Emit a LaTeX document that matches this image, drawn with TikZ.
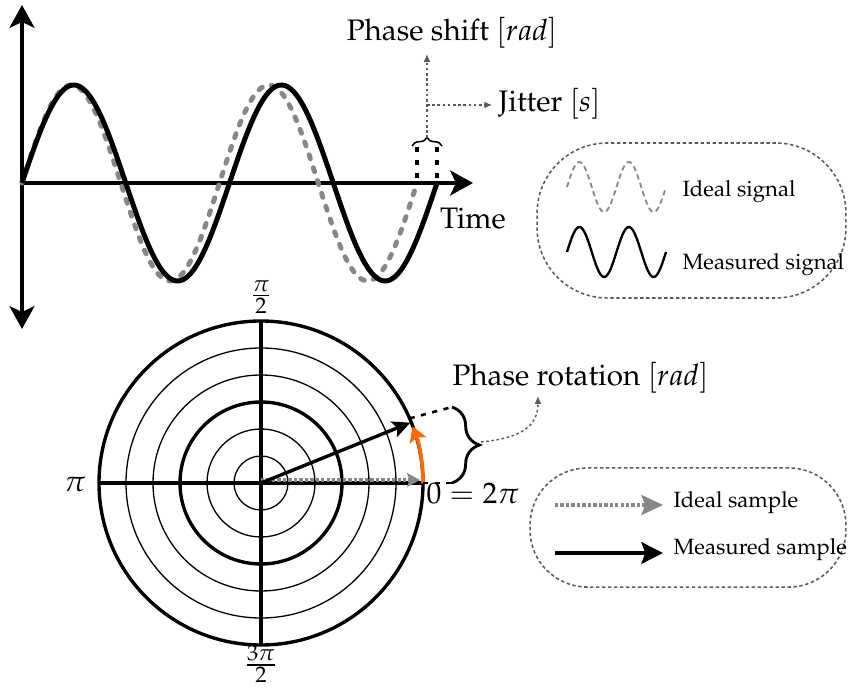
\documentclass[tikz,border=0pt]{standalone}
\usepackage[T1]{fontenc}
\usepackage{mathpazo}
\usetikzlibrary{arrows.meta,decorations.pathreplacing,calc}
\definecolor{sigray}{RGB}{135,135,135}
\definecolor{anngray}{RGB}{90,90,90}
\definecolor{rotorange}{RGB}{255,106,0}
\tikzset{bigtip/.tip={Stealth[length=8.8pt,width=9.6pt,inset=2.3pt]}}
\begin{document}
\begin{tikzpicture}[x=0.3846pt,y=-0.3846pt,
  mainlbl/.style={font=\fontsize{11.4}{13.7}\selectfont, inner sep=0pt},
  leglbl/.style={font=\fontsize{8.5}{10}\selectfont, inner sep=0pt, anchor=west},
  bigaxis/.style={line width=1.8pt},
  idealsig/.style={sigray, line width=1.9pt, line cap=round, dash pattern=on 1.6pt off 3.6pt},
  meassig/.style={black, line width=1.9pt},
  jitline/.style={black, line width=1.2pt, dash pattern=on 2pt off 3pt},
  annarrow/.style={anngray, line width=0.55pt, dash pattern=on 1pt off 1pt, -{Latex[length=3pt,width=2.6pt]}},
  legbox/.style={draw=anngray, line width=0.6pt, dash pattern=on 1.3pt off 1pt, rectangle},
  legideal/.style={sigray, line width=0.7pt, dash pattern=on 2pt off 1.4pt},
  legmeas/.style={black, line width=0.9pt},
  thinring/.style={black, line width=0.5pt},
  thickring/.style={black, line width=1.3pt},
  paxis/.style={black, line width=1.3pt},
  idealarrow/.style={sigray, line width=1.3pt, dash pattern=on 1.3pt off 0.8pt, -{Stealth[length=5pt,width=5.4pt,inset=1pt]}},
  measarrow/.style={black, line width=1.3pt, -{Stealth[length=6.8pt,width=6.4pt,inset=1.4pt]}},
  rotarc/.style={rotorange, line width=1.4pt, -{Stealth[length=5.8pt,width=6.8pt,inset=1.2pt]}},
  rotdash/.style={black, line width=1pt, dash pattern=on 2pt off 2.5pt},
  legidealarrow/.style={sigray, line width=1.4pt, dash pattern=on 1.3pt off 0.8pt, -{Stealth[length=8.3pt,width=7.7pt,inset=1.5pt]}},
  legmeasarrow/.style={black, line width=1.4pt, -{Stealth[length=8.3pt,width=8.3pt,inset=1.5pt]}}
]
\useasboundingbox (0,0) rectangle (848,697);

% ---------------- top: time signal ----------------
\coordinate (O) at (22,183);
\coordinate (yt) at (22,5);
\coordinate (yb) at (22,329);
\coordinate (xt) at (473,183);
\draw[bigaxis, {bigtip}-{bigtip}] (yb) -- (yt);
\draw[bigaxis, -{bigtip}] (O) -- (xt);

\draw[idealsig] plot[domain=0:395, samples=160, smooth] ({22+\x},{183-98*sin(\x/197.5*360)});
\draw[meassig] plot[domain=0:415, samples=160, smooth] ({22+\x},{183-98*sin(\x/207.5*360)});

\node[mainlbl] (time) at (473,219) {Time};

% jitter marks
\coordinate (j1a) at (417,147); \coordinate (j1b) at (417,180);
\coordinate (j2a) at (437,147); \coordinate (j2b) at (437,180);
\draw[jitline] (j1a) -- (j1b);
\draw[jitline] (j2a) -- (j2b);
\coordinate (jbl) at (412,146); \coordinate (jbr) at (442,146);
\draw[black, line width=0.6pt, decorate, decoration={brace, amplitude=3.3pt}] (jbl) -- (jbr);
\coordinate (jtip) at (427,138);
\coordinate (jmid) at (427,105);

\node[mainlbl] (shift) at (452,33) {Phase shift $[rad]$};
\node[mainlbl, anchor=west] (jit) at (498,104) {Jitter $[s]$};
\coordinate (shifttip) at (427,54);
\draw[annarrow] (jtip) -- (shifttip);
\draw[annarrow, shorten >=2.2pt] (jmid) -- (jmid -| jit.west);

% legend 1
\node[legbox, minimum width=118.8pt, minimum height=59.6pt, rounded corners=27pt] (leg1) at (691.5,220.5) {};
\draw[legideal] plot[domain=0:99, samples=80, smooth] ({567+\x},{187-25*sin(\x/49.5*360)});
\draw[legmeas] plot[domain=0:99, samples=80, smooth] ({567+\x},{252-25*sin(\x/49.5*360)});
\node[leglbl] (lideal) at (682,192) {Ideal signal};
\node[leglbl] (lmeas) at (682,265) {Measured signal};

% ---------------- bottom: polar ----------------
\coordinate (C) at (261,483);
\foreach \r in {27,54,108,135} \draw[thinring] (C) circle[radius=\r];
\foreach \r in {81,162} \draw[thickring] (C) circle[radius=\r];
\coordinate (pl) at (99,483); \coordinate (pr) at (423,483);
\coordinate (pt) at (261,321); \coordinate (pb) at (261,645);
\draw[paxis] (pl) -- (pr);
\draw[paxis] (pt) -- (pb);

\coordinate (Ci) at (261,480);
\coordinate (Ie) at (420,480);
\draw[idealarrow] (Ci) -- (Ie);
\coordinate (M) at ($(C)+(-22:161)$);
\draw[measarrow] (C) -- (M);
\draw[rotarc] (pr) arc[start angle=0, end angle=-20.5, radius=162];
\fill (C) circle[radius=2.5];

\coordinate (M2) at ($(C)+(-23.5:162)$);
\coordinate (bt) at (452,407);
\coordinate (bb) at (452,483);
\draw[rotdash] (M2) -- (bt);
\draw[rotdash] (pr) -- (bb);
\draw[black, line width=1.1pt, decorate, decoration={brace, amplitude=10.5pt}] (bt) -- (bb);
\coordinate (rtip) at (481,442);
\node[mainlbl, anchor=west] (rot) at (452,378) {Phase rotation $[rad]$};
\coordinate (rottip) at (538,396);
\draw[annarrow] (rtip) .. controls (522,438) and (538,426) .. (rottip);

\node[mainlbl] (pi) at (75,484) {$\pi$};
\node[mainlbl, anchor=west] (zero) at (426,494) {$0=2\pi$};
\node[mainlbl] (pihalf) at (261,297) {$\frac{\pi}{2}$};
\node[mainlbl] (pithree) at (261,664) {$\frac{3\pi}{2}$};

% legend 2
\node[legbox, minimum width=121.5pt, minimum height=45.8pt, rounded corners=22pt] (leg2) at (688,527.5) {};
\coordinate (la1) at (555,505); \coordinate (lb1) at (663,505);
\coordinate (la2) at (555,553); \coordinate (lb2) at (663,553);
\draw[legidealarrow] (la1) -- (lb1);
\draw[legmeasarrow] (la2) -- (lb2);
\node[leglbl] (lsi) at (673,503) {Ideal sample};
\node[leglbl] (lsm) at (673,550) {Measured sample};
\end{tikzpicture}
\end{document}
